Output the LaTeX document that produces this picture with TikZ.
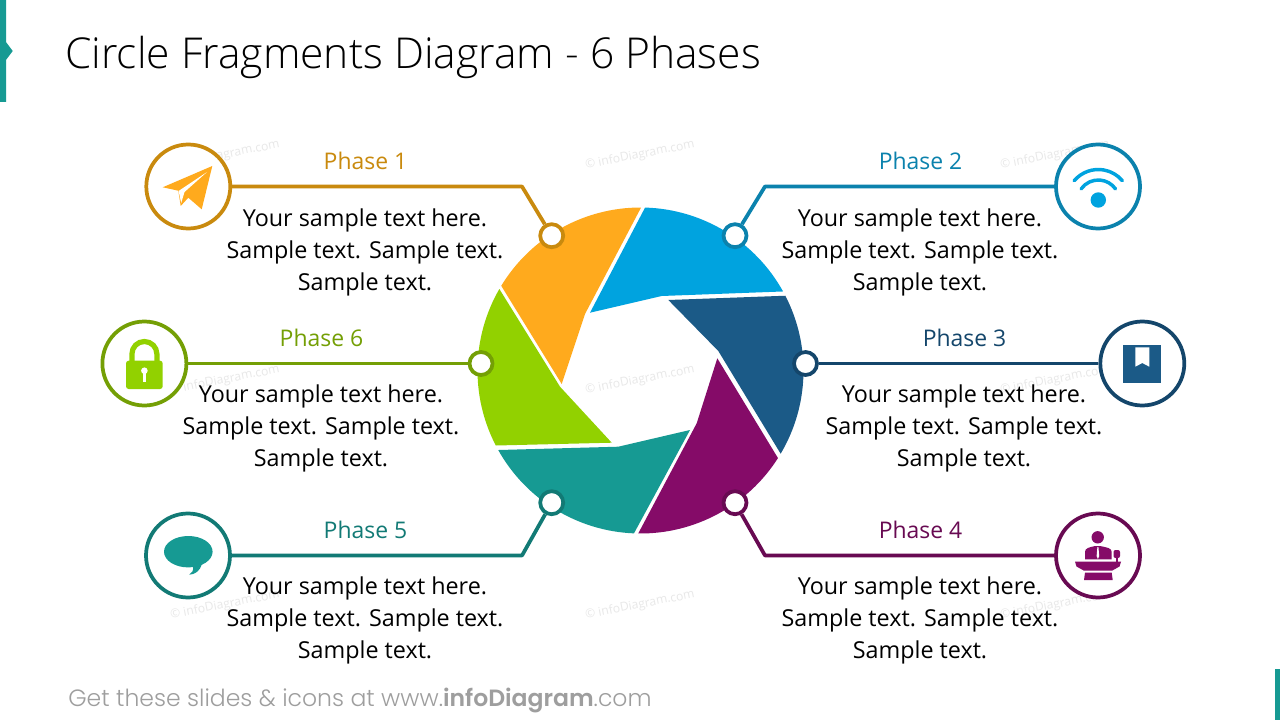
\documentclass[tikz,border=0pt]{standalone}
\usepackage{fontspec}
\setmainfont{Open Sans}
\newfontfamily\titlefont{Open Sans Light}
\newfontfamily\footfont[BoldFont={Poppins SemiBold}]{Poppins Light}
\usetikzlibrary{calc}
\definecolor{cOrange}{HTML}{FFAA1D}\definecolor{lOrange}{HTML}{C98A0E}
\definecolor{cBlue}{HTML}{00A3DF}\definecolor{lBlue}{HTML}{0B82AD}
\definecolor{cNavy}{HTML}{1B5A87}\definecolor{lNavy}{HTML}{14466B}
\definecolor{cPurple}{HTML}{850B68}\definecolor{lPurple}{HTML}{680A52}
\definecolor{cTeal}{HTML}{169A93}\definecolor{lTeal}{HTML}{127A75}
\definecolor{cGreen}{HTML}{92D100}\definecolor{lGreen}{HTML}{749F05}
\tikzset{
  iconring/.style={circle,draw=#1,fill=white,line width=2.8pt,inner sep=0pt,minimum size=63pt},
  hub/.style={circle,draw=#1,fill=white,line width=2.8pt,inner sep=0pt,minimum size=17.25pt},
  link/.style={draw=#1,line width=2.8pt,line join=round},
  phasetitle/.style={font=\fontsize{17.2}{20}\selectfont,text=#1,inner sep=0pt},
  bodytext/.style={font=\fontsize{17.5}{24}\selectfont,align=center,text=black,inner sep=0pt},
  wmark/.style={font=\fontsize{9.1}{10}\selectfont,text=black!9,rotate=11,inner sep=0pt}
}
\newcommand{\blade}[4]{\fill[#1] ([shift={(640.5,370.5)}]-#2:163) arc[start angle=-#2,end angle=-#3,radius=163] #4 -- cycle;}
\begin{document}
\begin{tikzpicture}[x=.75pt,y=.75pt,yscale=-1]
\useasboundingbox (0,0) rectangle (1280,720);
\fill[white] (0,0) rectangle (1280,720);
% watermarks
\foreach \wx in {225,640,1055}\foreach \wy in {155,380,605}
  \node[wmark] at (\wx,\wy) {© infoDiagram.com};
% side accents
\fill[cTeal] (0,0) -- (6,0) -- (6,42) -- (12.7,51) -- (6,60) -- (6,102) -- (0,102) -- cycle;
\fill[cTeal] (1275,669) rectangle (1280,720);
% title and footer
\node[anchor=west,inner sep=0pt,font=\titlefont\fontsize{31.9}{36}\selectfont] (title) at (65,57) {Circle Fragments Diagram - 6 Phases};
\node[anchor=west,inner sep=0pt,text=black!38,font=\footfont\fontsize{17.65}{20}\selectfont] (foot) at (68,700) {Get these slides \& icons at www.\textbf{infoDiagram}.com};
% blades
\blade{cOrange}{89.8}{148.7}{-- (561.7,384) -- (585,314)}
\blade{cBlue}{88.4}{29}{-- (661.7,296) -- (590,312.7)}
\blade{cNavy}{27.3}{-30.7}{-- (718.3,351) -- (668.3,300)}
\blade{cPurple}{-32.5}{-90.8}{-- (696.7,423.3) -- (717.3,358.3)}
\blade{cTeal}{267.7}{209.2}{-- (618.3,446.7) -- (690,430)}
\blade{cGreen}{207.4}{150}{-- (560,386.7) -- (611.7,442.7)}
% icon rings
\node[iconring=lOrange] (i1) at (188.3,186.5) {};
\node[iconring=lBlue] (i2) at (1098,186.5) {};
\node[iconring=lNavy] (i3) at (1142.3,363.5) {};
\node[iconring=lPurple] (i4) at (1098,555.5) {};
\node[iconring=lTeal] (i5) at (188,555.5) {};
\node[iconring=lGreen] (i6) at (144.4,363.5) {};
% hubs
\node[hub=lOrange] (d1) at (551.7,235.7) {};
\node[hub=lBlue] (d2) at (735,235.7) {};
\node[hub=lNavy] (d3) at (805.5,363.5) {};
\node[hub=lPurple] (d4) at (735,502.7) {};
\node[hub=lTeal] (d5) at (551.7,502.7) {};
\node[hub=lGreen] (d6) at (481,363.5) {};
% connectors
\coordinate (b1) at (522,186.5);
\coordinate (b2) at (765,186.5);
\coordinate (b4) at (765,555.5);
\coordinate (b5) at (522,555.5);
\path[link=lOrange] (i1) -- (b1) -- (d1);
\path[link=lBlue] (i2) -- (b2) -- (d2);
\path[link=lNavy] (i3) -- (d3);
\path[link=lPurple] (i4) -- (b4) -- (d4);
\path[link=lTeal] (i5) -- (b5) -- (d5);
\path[link=lGreen] (i6) -- (d6);
% labels
\node[phasetitle=lOrange] (p1) at (365.5,161) {Phase 1};
\node[phasetitle=lBlue] (p2) at (920.5,161) {Phase 2};
\node[phasetitle=lNavy] (p3) at (964.5,338) {Phase 3};
\node[phasetitle=lPurple] (p4) at (920.5,530) {Phase 4};
\node[phasetitle=lTeal] (p5) at (365.5,530) {Phase 5};
\node[phasetitle=lGreen] (p6) at (321.5,338) {Phase 6};
\def\sample{Your sample text here.\\Sample text. Sample text.\\Sample text.}
\node[bodytext] (t1) at (365,252) {\sample};
\node[bodytext] (t2) at (920,252) {\sample};
\node[bodytext] (t3) at (964,428) {\sample};
\node[bodytext] (t4) at (920,620) {\sample};
\node[bodytext] (t5) at (365,620) {\sample};
\node[bodytext] (t6) at (321,428) {\sample};
% plane
\fill[cOrange] (212.3,166) -- (162.7,187.3) -- (178.3,190.7) -- (180.7,206) -- (188.3,197.7) -- (201.7,209.3) -- cycle;
\fill[white] (207,172) -- (178.6,191) -- (181.2,203) -- (184.5,192) -- cycle;
% wifi
\fill[cBlue] (1098.3,200) circle[radius=7.7];
\draw[cBlue,line width=2.6pt,line cap=round] ([shift={(1098.3,201)}]-140:31.5) arc[start angle=-140,end angle=-40,radius=31.5];
\draw[cBlue,line width=2.6pt,line cap=round] ([shift={(1098.3,201)}]-145:21) arc[start angle=-145,end angle=-35,radius=21];
% bookmark
\fill[cNavy] (1123,345) rectangle (1161,383);
\fill[white] (1135.3,347.3) -- (1149.3,347.3) -- (1149.3,366.7) -- (1142.3,363) -- (1135.3,366.7) -- cycle;
% podium
\fill[cPurple] (1097.7,537.3) circle[radius=6.2];
\fill[cPurple] (1085,559.3) -- (1085,552) .. controls (1085,548) and (1089,547.5) .. (1095,546) -- (1100,546) .. controls (1107,547.5) and (1111.7,548) .. (1111.7,552) -- (1111.7,559.3) -- cycle;
\fill[white] (1097.4,547) -- (1098.4,547) -- (1099.2,556) -- (1097.9,559) -- (1096.6,556) -- cycle;
\fill[cPurple] (1075,561.7) -- (1121,561.7) -- (1119.5,566.5) -- (1112,570.7) -- (1084,570.7) -- (1076.5,566.5) -- cycle;
\fill[cPurple] (1085,572.7) -- (1111.7,572.7) -- (1112.7,580) -- (1084,580) -- cycle;
\fill[cPurple,rounded corners=1.5pt] (1113.5,550) rectangle (1120,558);
\fill[cPurple] (1115.7,557) rectangle (1117.7,562);
% speech bubble
\fill[cTeal] (188.3,551.7) ellipse[x radius=24.3,y radius=15.7];
\fill[cTeal] (193,566) .. controls (194,570) and (192,573) .. (189.3,574.7) .. controls (195,574.5) and (200,571) .. (202,564) -- cycle;
% lock
\draw[cGreen,line width=3.9pt] (131.9,362) -- (131.9,354) arc[start angle=180,end angle=360,radius=12.5] -- (156.9,362);
\fill[cGreen,rounded corners=2pt] (126,360.7) rectangle (162.7,389);
\fill[white] (144.4,370.7) circle[radius=3.3];
\fill[white] (142.6,371) rectangle (146.2,381.7);
\end{tikzpicture}
\end{document}
